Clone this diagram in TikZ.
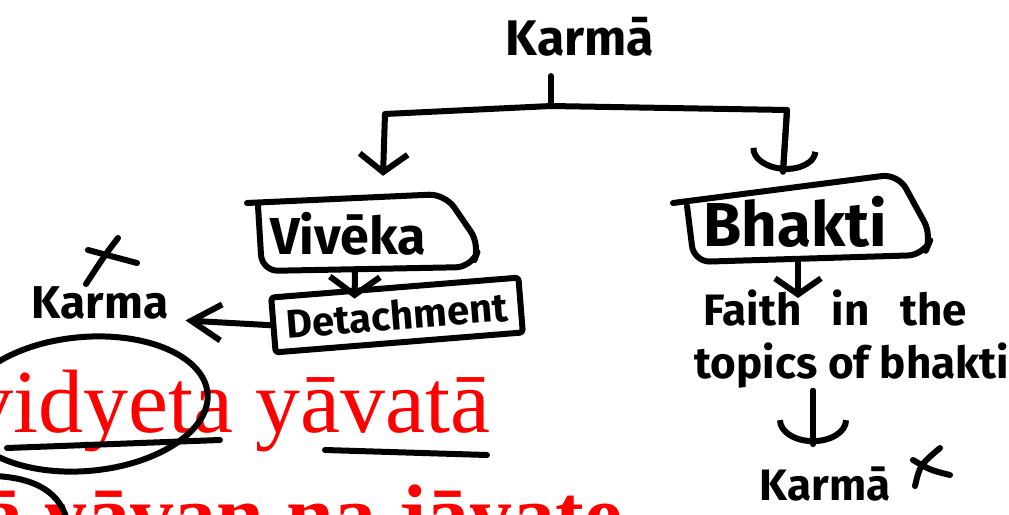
\documentclass[tikz,border=0pt]{standalone}
\usepackage{fontspec}
\setmainfont{Liberation Serif}
\newfontfamily\hand{Fira Sans}
\usetikzlibrary{arrows.meta}
\begin{document}
\begin{tikzpicture}[x=1pt,y=-1pt,
  ink/.style={line width=6pt,line cap=round,line join=round},
  hw/.style={font=\hand\bfseries\fontsize{#1}{#1}\selectfont,inner sep=0pt},
  skt/.style={text=red,inner sep=0pt,anchor=base west},
  sbarb/.style args={#1/#2}{-{Straight Barb[length=#1,width=#2]}},
  abarb/.style args={#1/#2}{-{Arc Barb[length=#1,width=#2]}}]
\useasboundingbox (0,0) rectangle (1009,514);
% --- red verse text with annotations
\begin{scope}
\clip (0,0) rectangle (1009,514);
\node[skt,font=\fontsize{90}{90}\selectfont] (verse1) at (-32,432) {vidyeta yāvatā};
\node[skt,font=\bfseries\fontsize{86}{86}\selectfont] (verse2) at (-20,544) {ā yāvan na jāyate};
\draw[ink,shift={(85,404)},rotate=5] (0,0) ellipse [x radius=123,y radius=67];
\draw[ink] (-5,476) .. controls (35,478) and (62,492) .. (68,525);
\draw[ink] (7,448) -- (220,440);
\draw[ink] (325,450) -- (487,455);
\end{scope}
% --- nodes
\node[hw=50,anchor=base] (karma) at (580,55) {Karmā};
\node[hw=52,minimum width=222pt,minimum height=72pt] (viveka) at (368,234) {Vivēka\kern40pt};
\node[hw=40,draw,ink,rotate=4.6,minimum width=248pt,minimum height=55pt,rounded corners=3pt] (detach) at (397,315) {Detachment};
\node[hw=62,minimum width=244pt,minimum height=80pt] (bhakti) at (810,222) {Bhakti\kern30pt};
\node[font=\hand\bfseries\fontsize{44}{53}\selectfont,inner sep=0pt,align=left,anchor=north] (faith) at (852,290) {\hspace*{9pt}Faith\hspace{20pt} in\hspace{20pt} the\\topics of bhakti};
\node[hw=46,anchor=base] (karmaL) at (100,318) {Karma};
\node[hw=44,anchor=base] (karmaB) at (825,500) {Karmā};
% --- hand-drawn box outlines
\draw[ink,rounded corners=16pt] ([shift={(-121,-31)}]viveka.center) -- ([shift={(77,-40)}]viveka.center) -- ([shift={(112,11)}]viveka.center) -- ([shift={(104,33)}]viveka.center) -- ([shift={(-106,37)}]viveka.center) -- ([shift={(-110,-28)}]viveka.center);
\draw[ink,rounded corners=16pt] ([shift={(-137,-19)}]bhakti.center) -- ([shift={(88,-48)}]bhakti.center) -- ([shift={(122,14)}]bhakti.center) -- ([shift={(114,33)}]bhakti.center) -- ([shift={(-116,40)}]bhakti.center) -- ([shift={(-123,-16)}]bhakti.center);
% --- tree connectors
\coordinate (split) at (551,106);
\draw[ink] ([xshift=-29pt,yshift=-20pt]karma.south) -- (split);
\draw[ink,sbarb=18pt/48pt] (split) -- (385,114) -- ([xshift=15pt,yshift=22pt]viveka.north);
\draw[ink,abarb=22pt/68pt] (split) -- (787,110) -- ([xshift=-27pt,yshift=10pt]bhakti.north);
\draw[ink] (787,110) -- ([xshift=-27pt,yshift=10pt]bhakti.north);
% --- other connectors
\draw[ink,sbarb=18pt/50pt] ([xshift=-13pt]viveka.south) -- ([xshift=-40pt,yshift=-14pt]detach.north);
\draw[ink,sbarb=30pt/36pt] (detach.west) -- ([xshift=17pt,yshift=-18pt]karmaL.east);
\draw[ink,sbarb=16pt/46pt] ([xshift=-12pt]bhakti.south) -- ([xshift=-54pt,yshift=-8pt]faith.north);
\draw[ink,abarb=24pt/72pt] ([xshift=-39pt,yshift=-2pt]faith.south) -- ([xshift=-12pt,yshift=22pt]karmaB.north);
\draw[ink] ([xshift=-39pt,yshift=-2pt]faith.south) -- ([xshift=-12pt,yshift=22pt]karmaB.north);
% --- cross marks
\draw[ink] (88,250) -- (137,263);
\draw[ink] (118,238) .. controls (105,255) .. (86,284);
\draw[ink] (913,460) .. controls (930,470) .. (950,475);
\draw[ink] (940,448) .. controls (920,465) .. (915,486);
\end{tikzpicture}
\end{document}
